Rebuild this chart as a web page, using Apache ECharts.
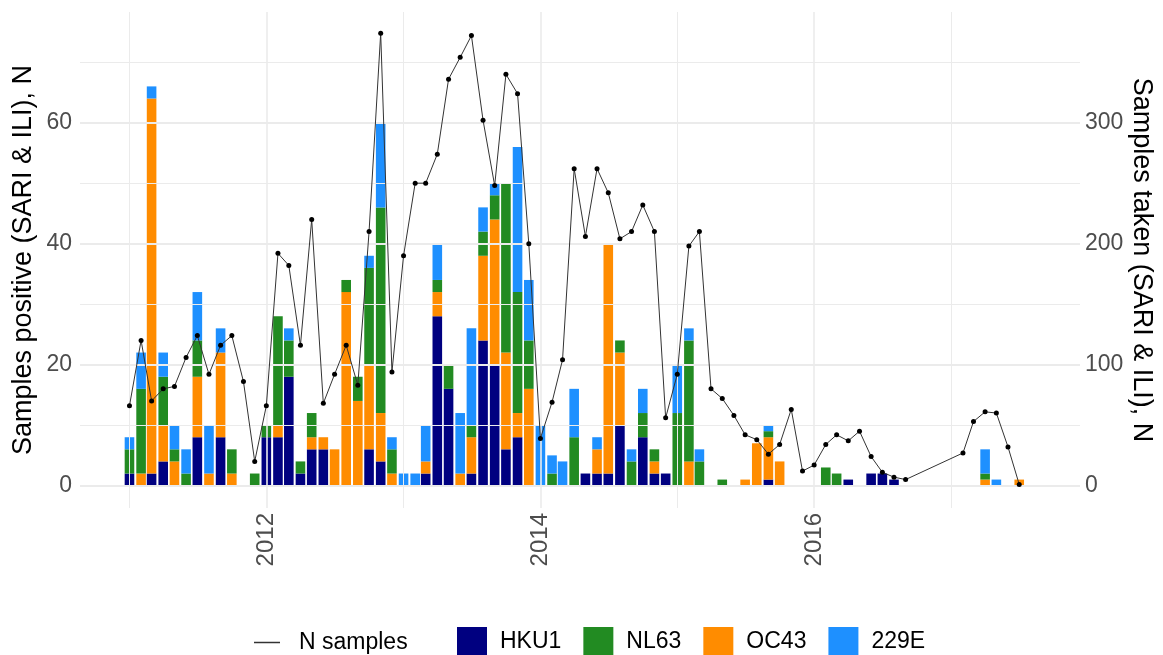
<!DOCTYPE html>
<html><head><meta charset="utf-8">
<script src="https://cdn.jsdelivr.net/npm/echarts@6/dist/echarts.min.js"></script>
<style>html,body{margin:0;padding:0;background:#fff}#c{width:1163px;height:655px}</style>
</head><body><div id="c"></div>
<script>
const months = [
 '2011-01','2011-02','2011-03','2011-04','2011-05','2011-06','2011-07','2011-08','2011-09','2011-10','2011-11','2011-12',
 '2012-01','2012-02','2012-03','2012-04','2012-05','2012-06','2012-07','2012-08','2012-09','2012-10','2012-11','2012-12',
 '2013-01','2013-02','2013-03','2013-04','2013-05','2013-06','2013-07','2013-08','2013-09','2013-10','2013-11','2013-12',
 '2014-01','2014-02','2014-03','2014-04','2014-05','2014-06','2014-07','2014-08','2014-09','2014-10','2014-11','2014-12',
 '2015-01','2015-02','2015-03','2015-04','2015-05','2015-06','2015-07','2015-08','2015-09','2015-10','2015-11','2015-12',
 '2016-01','2016-02','2016-03','2016-04','2016-05','2016-06','2016-07','2016-08','2016-09','2016-10','2016-11','2016-12',
 '2017-01','2017-02','2017-03','2017-04','2017-05','2017-06','2017-07'];
const hku1 = [
 2,0,2,4,0,0,8,0,8,0,0,0,
 8,8,18,2,6,6,0,0,0,6,4,0,
 0,0,2,28,16,0,2,24,20,6,8,0,
 0,0,0,0,2,2,2,10,0,8,2,2,
 0,0,0,0,0,0,0,0,1,0,0,0,
 0,0,0,1,0,2,2,1,0,0,0,0,
 0,0,0,0,0,0,0];
const nl63 = [
 4,14,0,8,2,2,6,0,0,4,0,2,
 2,18,6,2,4,0,0,2,4,16,34,4,
 0,0,0,2,4,0,2,4,4,28,20,8,
 0,2,0,8,0,0,0,2,4,4,2,0,
 12,20,4,0,1,0,0,0,1,0,0,0,
 0,3,2,0,0,0,0,0,0,0,0,0,
 0,0,0,1,0,0,0];
const oc43 = [
 0,2,62,6,4,0,10,2,14,2,0,0,
 0,2,0,0,2,2,6,32,14,14,8,2,
 0,0,2,4,0,2,6,14,24,16,4,16,
 0,0,0,0,0,4,38,12,0,0,2,0,
 0,4,0,0,0,0,1,7,7,4,0,0,
 0,0,0,0,0,0,0,0,0,0,0,0,
 0,0,0,1,0,0,1];
const e229 = [
 2,6,2,4,4,4,8,8,4,0,0,0,
 0,0,2,0,0,0,0,0,0,2,14,2,
 2,2,6,6,0,10,16,4,2,0,24,10,
 10,3,4,8,0,2,0,0,2,4,0,0,
 8,2,2,0,0,0,0,0,1,0,0,0,
 0,0,0,0,0,0,0,0,0,0,0,0,
 0,0,0,4,1,0,0];
const sampleMonths = [
 '2011-01','2011-02','2011-03','2011-04','2011-05','2011-06','2011-07','2011-08','2011-09','2011-10','2011-11','2011-12',
 '2012-01','2012-02','2012-03','2012-04','2012-05','2012-06','2012-07','2012-08','2012-09','2012-10','2012-11','2012-12',
 '2013-01','2013-02','2013-03','2013-04','2013-05','2013-06','2013-07','2013-08','2013-09','2013-10','2013-11','2013-12',
 '2014-01','2014-02','2014-03','2014-04','2014-05','2014-06','2014-07','2014-08','2014-09','2014-10','2014-11','2014-12',
 '2015-01','2015-02','2015-03','2015-04','2015-05','2015-06','2015-07','2015-08','2015-09','2015-10','2015-11','2015-12',
 '2016-01','2016-02','2016-03','2016-04','2016-05','2016-06','2016-07','2016-08','2016-09',
 '2017-02','2017-03','2017-04','2017-05','2017-06','2017-07'];
const nSamples = [
 66,120,70,80,82,106,124,92,116,124,86,20,
 66,192,182,116,220,68,92,116,83,210,374,94,
 190,250,250,274,336,354,372,302,248,340,324,200,
 39,69,104,262,206,262,242,204,210,232,210,56,
 92,198,210,80,72,58,42,38,26,34,63,12,
 17,34,42,37,45,24,11,7,5,
 27,53,61,60,32,1];
const yearTicks = [2012, 2014, 2016];
const leftTicks = [0, 20, 40, 60];
const rightTicks = [0, 100, 200, 300];

function toTime(m){ const p = m.split('-').map(Number); return Date.UTC(p[0], p[1]-1, 1); }
function fromYear(y){ const f = Math.floor(y); const s = Date.UTC(f,0,1), e = Date.UTC(f+1,0,1); return s + (y - f) * (e - s); }
const T = months.map(toTime);
const pair = arr => arr.map((v,i) => [T[i], v]);
const fmt = list => v => { const r = Math.round(v); return (Math.abs(v - r) < 1e-6 && list.indexOf(r) >= 0) ? String(r) : ''; };
const yearFmt = v => {
  const d = new Date(v);
  const y = d.getUTCFullYear();
  if (d.getUTCMonth() === 0 && d.getUTCDate() === 1 && d.getUTCHours() === 0 && yearTicks.indexOf(y) >= 0) return String(y);
  return '';
};

const FONT = 'Liberation Sans, Arial, sans-serif';
const GRID = '#ebebeb';
const GL = 80, GW = 1002;
const vMinor = [2011, 2013, 2015, 2017].map(v => ({xAxis: Date.UTC(v,0,1), lineStyle: {width: 1}}));
const vMajor = yearTicks.map(v => ({xAxis: Date.UTC(v,0,1), lineStyle: {width: 1.6}}));
const hMinor = [10, 30, 50, 70].map(v => ({yAxis: v, lineStyle: {width: 1}}));
const hMajor = leftTicks.map(v => ({yAxis: v, lineStyle: {width: 1.8}}));

const colors = {HKU1: '#000080', NL63: '#228B22', OC43: '#FF8C00', '229E': '#1E90FF'};
const bar = (name, arr) => ({
  name, type: 'bar', stack: 'pos', data: pair(arr), barWidth: 9.6, z: 2,
  itemStyle: {color: colors[name]}, emphasis: {disabled: true}
});

const A = fromYear(2010.6386), B = fromYear(2017.9546);

const chart = echarts.init(document.getElementById('c'), null, {renderer: 'canvas'});
chart.setOption({
  animation: false,
  useUTC: true,
  textStyle: {fontFamily: FONT},
  grid: {left: GL, width: GW, top: 12, bottom: 147, containLabel: false},
  xAxis: {
    type: 'time', min: A, max: B,
    axisLine: {show: false}, axisTick: {show: false}, splitLine: {show: false},
    axisLabel: {rotate: 90, margin: 5, fontSize: 24, color: '#4d4d4d', fontFamily: FONT,
      showMinLabel: false, showMaxLabel: false, hideOverlap: false, formatter: yearFmt}
  },
  yAxis: [{
    type: 'value', min: -3.7, max: 78.3, splitNumber: 4,
    name: 'Samples positive (SARI & ILI), N', nameLocation: 'middle', nameGap: 43, nameMoveOverlap: false,
    nameTextStyle: {fontSize: 27, color: '#000', fontFamily: FONT},
    axisLine: {show: false}, axisTick: {show: false}, splitLine: {show: false},
    axisLabel: {margin: 8, fontSize: 23, color: '#4d4d4d', fontFamily: FONT,
      showMinLabel: false, showMaxLabel: false, formatter: fmt(leftTicks)}
  }, {
    type: 'value', min: -18.5, max: 391.5, splitNumber: 4, position: 'right',
    name: 'Samples taken (SARI & ILI), N', nameLocation: 'middle', nameGap: 48, nameRotate: -90, nameMoveOverlap: false,
    nameTextStyle: {fontSize: 27, color: '#000', fontFamily: FONT},
    axisLine: {show: false}, axisTick: {show: false}, splitLine: {show: false},
    axisLabel: {margin: 5, fontSize: 23, color: '#4d4d4d', fontFamily: FONT,
      showMinLabel: false, showMaxLabel: false, formatter: fmt(rightTicks)}
  }],
  legend: [{
    data: ['N samples'], left: 249, top: 626, icon: 'rect', itemWidth: 26, itemHeight: 1.5,
    itemStyle: {color: '#333'},
    textStyle: {fontSize: 23, color: '#000', fontFamily: FONT, padding: [0,0,0,14]}
  }, {
    data: ['HKU1', 'NL63', 'OC43', '229E'], left: 452, top: 622, icon: 'rect',
    itemWidth: 30, itemHeight: 30, itemGap: 22,
    textStyle: {fontSize: 23, color: '#000', fontFamily: FONT, padding: [0,0,0,8]}
  }],
  series: [
    {
      name: '_grid', type: 'line', data: [[Date.UTC(2012,0,1), 0]], symbol: 'none', lineStyle: {opacity: 0},
      silent: true, z: 1,
      markLine: {silent: true, symbol: ['none','none'], label: {show: false}, animation: false,
        lineStyle: {color: GRID, type: 'solid'}, emphasis: {disabled: true},
        data: [].concat(vMinor, vMajor, hMinor, hMajor)}
    },
    bar('HKU1', hku1),
    bar('OC43', oc43),
    bar('NL63', nl63),
    bar('229E', e229),
    {
      name: 'N samples', type: 'line', yAxisIndex: 1, z: 5,
      data: sampleMonths.map((m,i) => [toTime(m), nSamples[i]]),
      symbol: 'circle', symbolSize: 5, showSymbol: true,
      lineStyle: {color: '#333', width: 1}, itemStyle: {color: '#000'},
      emphasis: {disabled: true}
    }
  ]
});

// ECharts widens a time axis that carries bars; undo that widening so the
// panel spans exactly [A, B] as in the reference.
(function correct(){
  let m0 = A, M0 = B;
  for (let it = 0; it < 3; it++) {
    const t1 = Date.UTC(2011,0,1), t2 = Date.UTC(2017,0,1);
    const p1 = chart.convertToPixel({xAxisIndex: 0}, t1);
    const p2 = chart.convertToPixel({xAxisIndex: 0}, t2);
    const s = (p2 - p1) / (t2 - t1);
    const a = t1 - (p1 - GL) / s, b = a + GW / s;
    if (Math.abs(a - A) < 3600e3 && Math.abs(b - B) < 3600e3) break;
    const k = (b - a) / (M0 - m0);
    const c = (a + b) / 2 - (m0 + M0) / 2;
    const newRange = (B - A) / k;
    const mid = (A + B) / 2 - c;
    m0 = mid - newRange / 2; M0 = mid + newRange / 2;
    chart.setOption({xAxis: {min: m0, max: M0}});
  }
})();
</script>
</body></html>
